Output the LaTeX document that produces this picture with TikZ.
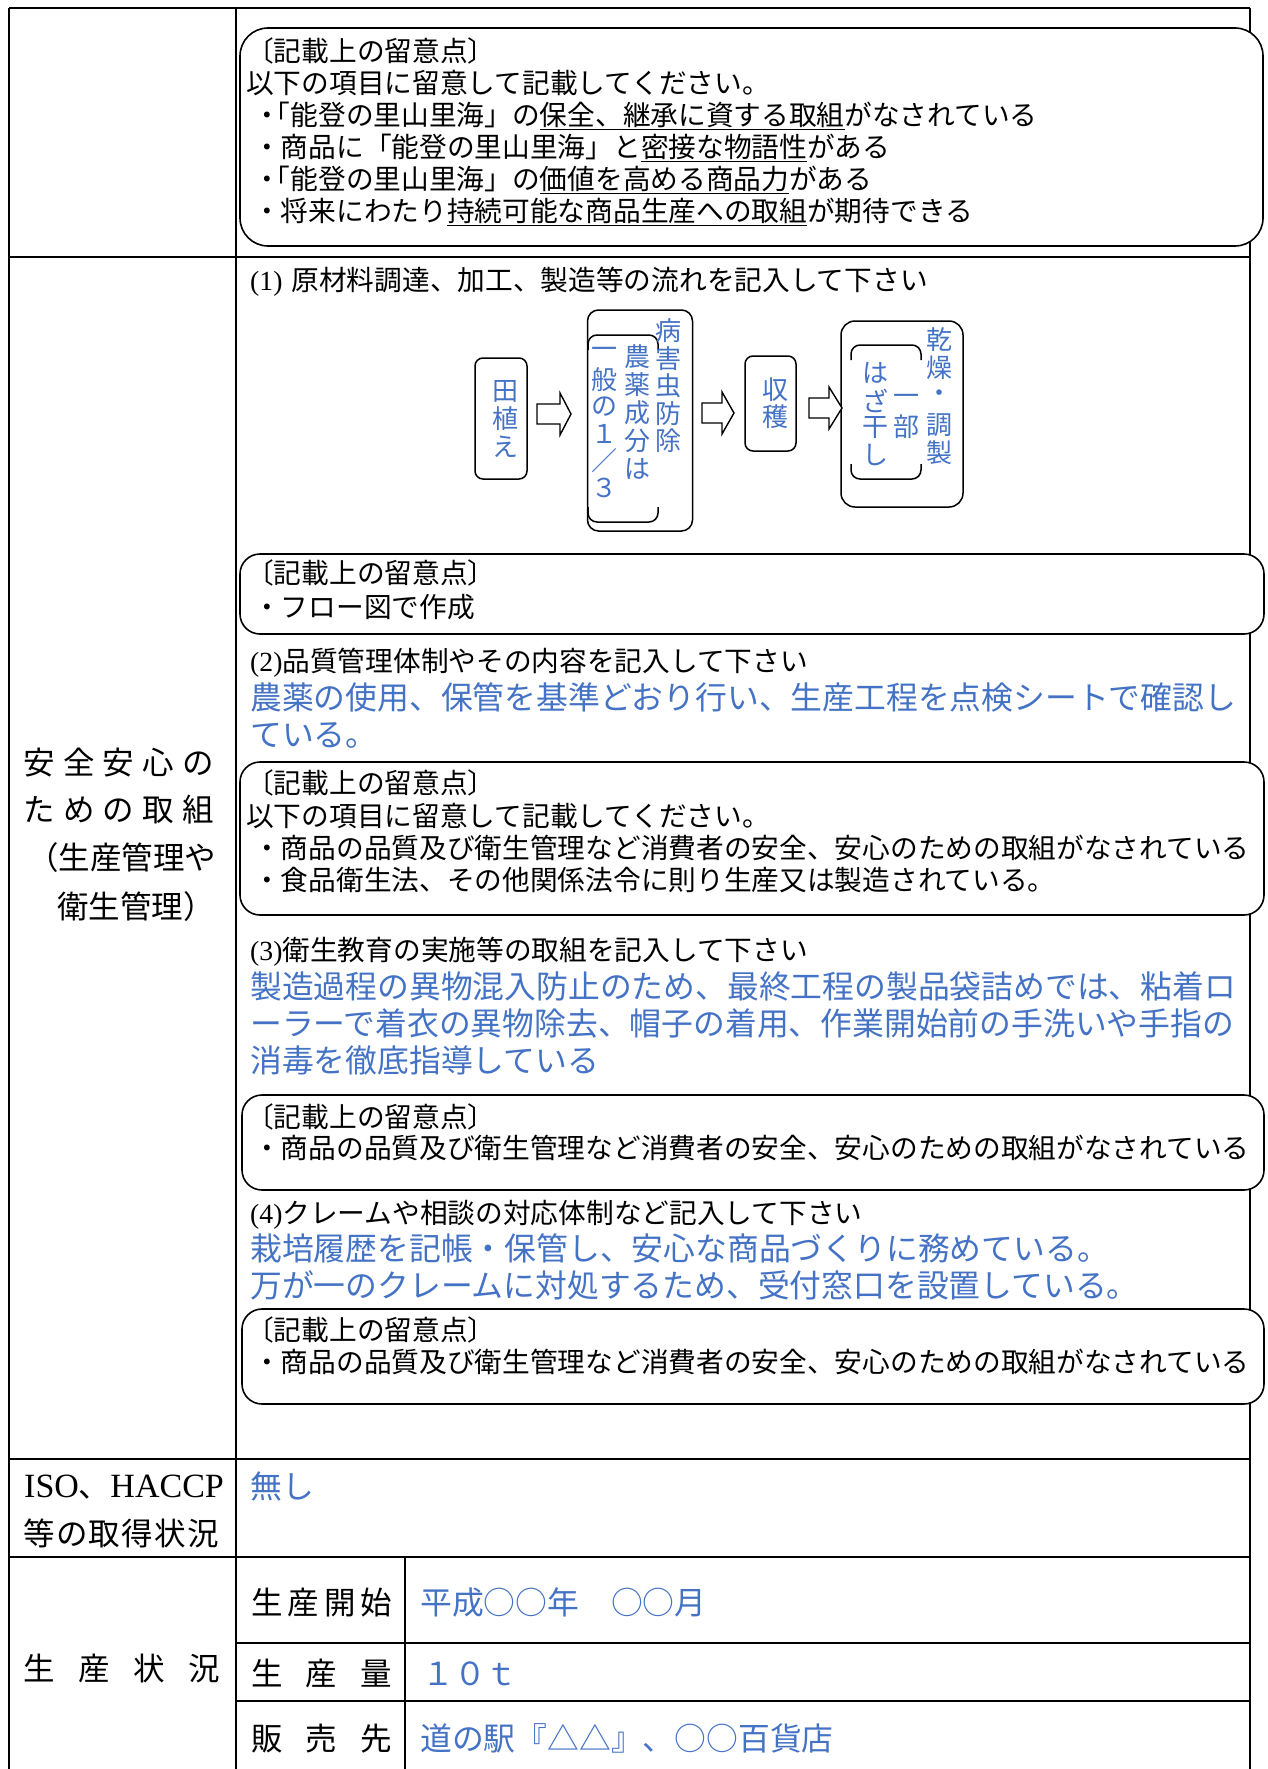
\documentclass[tikz,border=0pt]{standalone}
\usepackage{fontspec}
\setmainfont{Liberation Serif}
\newfontfamily\jp{Noto Sans CJK JP}
\usetikzlibrary{positioning}

\definecolor{ansblue}{RGB}{68,114,196}

\newcommand{\blockarrow}[4]{%
  \draw[arrowshape] (#1,#4-10) -- (#2,#4-10) -- (#2,#4-21) -- (#3,#4)
    -- (#2,#4+21) -- (#2,#4+10) -- (#1,#4+10) -- cycle;}
\newcommand{\bracketpair}[4]{%
  \draw[bracketline] (#1,#2+15) -- (#1,#2) -- (#3,#2) -- (#3,#2+15);
  \draw[bracketline] (#1,#4-15) -- (#1,#4) -- (#3,#4) -- (#3,#4-15);}
\newcommand{\kagi}{\hspace{-0.65em}「}

\tikzset{
  hrule/.style={line width=2.4pt},
  vrule/.style={line width=1.4pt},
  notebox/.style={draw, fill=white, line width=1.6pt, rounded corners=20pt},
  flowbox/.style={draw, line width=1.5pt, rounded corners=8pt, inner sep=0pt},
  bracketline/.style={line width=1.5pt, rounded corners=9pt},
  arrowshape/.style={draw, fill=white, line width=1.4pt, line join=miter},
  note/.style={anchor=base west, inner sep=0pt, font=\jp\fontsize{27.7}{32}\selectfont},
  ans/.style={anchor=base west, inner sep=0pt, text=ansblue, font=\jp\fontsize{31.8}{37}\selectfont},
  lbl/.style={anchor=base west, inner sep=0pt, font=\jp\fontsize{31.5}{37}\selectfont},
  vchar/.style={inner sep=0pt, text=ansblue, font=\jp\fontsize{26}{28}\selectfont},
}

\begin{document}
\begin{tikzpicture}[x=1pt,y=-1pt]
\useasboundingbox (0,0) rectangle (1268,1769);

% table rules
\draw[hrule] (9,8) -- (1250,8);
\draw[hrule] (9,257) -- (1250,257);
\draw[hrule] (9,1459) -- (1250,1459);
\draw[hrule] (9,1557) -- (1250,1557);
\draw[hrule] (236,1643) -- (1250,1643);
\draw[hrule] (236,1701) -- (1250,1701);
\draw[vrule] (9,8) -- (9,1769);
\draw[vrule] (236,8) -- (236,1769);
\draw[vrule] (1250,8) -- (1250,1769);
\draw[vrule] (405,1557) -- (405,1769);

% top note
\draw[notebox, rounded corners=28pt] (240,28) rectangle (1263,246);
\node[note] (n1a) at (246,61.5) {〔記載上の留意点〕};
\node[note] (n1b) at (246,93.5) {以下の項目に留意して記載してください。};
\node[note] (n1c) at (253,125.5) {・\kagi 能登の里山里海」の\underline{保全、継承に資する取組}がなされている};
\node[note] (n1d) at (253,157.5) {・商品に「能登の里山里海」と\underline{密接な物語性}がある};
\node[note] (n1e) at (253,189.5) {・\kagi 能登の里山里海」の\underline{価値を高める商品力}がある};
\node[note] (n1f) at (253,221.5) {・将来にわたり\underline{持続可能な商品生産への取組}が期待できる};

% left labels
\node[lbl] (l1) at (23,774) {\makebox[191pt][s]{安\hfill 全\hfill 安\hfill 心\hfill の}};
\node[lbl] (l2) at (23,821) {\makebox[191pt][s]{た\hfill め\hfill の\hfill 取\hfill 組}};
\node[lbl] (l3) at (27,869) {（生産管理や};
\node[lbl] (l4) at (57,918) {衛生管理）};

% (1) flow
\node[note] (h1) at (250,290.5) {{\rmfamily (1)}\hspace{9pt}原材料調達、加工、製造等の流れを記入して下さい};

\node[flowbox, minimum width=52, minimum height=121] (taue) at (501,418.5) {};
\node[flowbox, minimum width=105, minimum height=221, rounded corners=11pt] (boujo) at (640,420.5) {};
\node[flowbox, minimum width=51, minimum height=95] (shukaku) at (770.5,403.5) {};
\node[flowbox, minimum width=122, minimum height=186, rounded corners=14pt] (kanso) at (902,414) {};
\bracketpair{588}{335}{658}{522}
\bracketpair{851}{345}{921}{479}

\blockarrow{537}{560}{571}{414}
\blockarrow{702}{722}{734}{413}
\blockarrow{809}{829}{842}{408}

\foreach \c [count=\i from 0] in {田,植,え}
  \node[vchar] (taue\i) at (505,391+28*\i) {\c};
\foreach \c [count=\i from 0] in {病,害,虫,防,除}
  \node[vchar] (byo\i) at (668,331+27.5*\i) {\c};
\foreach \c [count=\i from 0] in {農,薬,成,分,は}
  \node[vchar] (noy\i) at (637,357+28*\i) {\c};
\foreach \c [count=\i from 0] in {一,般,の,１,／,３}
  \node[vchar] (ippan\i) at (604,353+27*\i) {\c};
\foreach \c [count=\i from 0] in {収,穫}
  \node[vchar] (shu\i) at (775,390+27*\i) {\c};
\foreach \c [count=\i from 0] in {乾,燥,・,調,製}
  \node[vchar] (kan\i) at (939,340+28.25*\i) {\c};
\foreach \c [count=\i from 0] in {一,部}
  \node[vchar] (ichi\i) at (906,400+27*\i) {\c};
\foreach \c [count=\i from 0] in {は,ざ,干,し}
  \node[vchar] (haza\i) at (875,373+27.5*\i) {\c};

\draw[notebox] (240,554) rectangle (1264,634);
\node[note] (n2a) at (246,583.5) {〔記載上の留意点〕};
\node[note] (n2b) at (253,617.5) {・フロー図で作成};

% (2)
\node[note] (h2) at (250,671.5) {{\rmfamily (2)}品質管理体制やその内容を記入して下さい};
\node[ans] (a2a) at (250,709) {農薬の使用、保管を基準どおり行い、生産工程を点検シートで確認し};
\node[ans] (a2b) at (250,746) {ている。};

\draw[notebox] (240,762) rectangle (1264,915);
\node[note] (n3a) at (246,793.5) {〔記載上の留意点〕};
\node[note] (n3b) at (246,826.5) {以下の項目に留意して記載してください。};
\node[note] (n3c) at (253,858.5) {・商品の品質及び衛生管理など消費者の安全、安心のための取組がなされている};
\node[note] (n3d) at (253,890.5) {・食品衛生法、その他関係法令に則り生産又は製造されている。};

% (3)
\node[note] (h3) at (250,960.5) {{\rmfamily (3)}衛生教育の実施等の取組を記入して下さい};
\node[ans] (a3a) at (250,998) {製造過程の異物混入防止のため、最終工程の製品袋詰めでは、粘着ロ};
\node[ans] (a3b) at (250,1035) {ーラーで着衣の異物除去、帽子の着用、作業開始前の手洗いや手指の};
\node[ans] (a3c) at (250,1072) {消毒を徹底指導している};

\draw[notebox] (242,1095) rectangle (1264,1190);
\node[note] (n4a) at (246,1127.5) {〔記載上の留意点〕};
\node[note] (n4b) at (253,1158.5) {・商品の品質及び衛生管理など消費者の安全、安心のための取組がなされている};

% (4)
\node[note] (h4) at (250,1223.5) {{\rmfamily (4)}クレームや相談の対応体制など記入して下さい};
\node[ans] (a4a) at (250,1260) {栽培履歴を記帳・保管し、安心な商品づくりに務めている。};
\node[ans] (a4b) at (250,1297) {万が一のクレームに対処するため、受付窓口を設置している。};

\draw[notebox] (242,1309) rectangle (1264,1404);
\node[note] (n5a) at (246,1340.5) {〔記載上の留意点〕};
\node[note] (n5b) at (253,1372.5) {・商品の品質及び衛生管理など消費者の安全、安心のための取組がなされている};

% ISO row
\node[lbl] (iso) at (24,1497) {{\rmfamily\fontsize{34}{37}\selectfont ISO}、{\rmfamily\fontsize{34}{37}\selectfont HACCP}};
\node[lbl] (iso2) at (23,1545) {\makebox[196pt][s]{等\hfill の\hfill 取\hfill 得\hfill 状\hfill 況}};
\node[ans] (nashi) at (250,1498) {無し};

% production rows
\node[lbl] (seisan) at (23,1680) {\makebox[197pt][s]{生\hfill 産\hfill 状\hfill 況}};
\node[lbl] (kaishi) at (251,1614) {\makebox[141pt][s]{生\hfill 産\hfill 開\hfill 始}};
\node[lbl] (ryo) at (251,1685) {\makebox[141pt][s]{生\hfill 産\hfill 量}};
\node[lbl] (hanbai) at (251,1750) {\makebox[141pt][s]{販\hfill 売\hfill 先}};
\node[ans] (kaishiv) at (420,1614) {平成○○年　○○月};
\node[ans] (ryov) at (422,1685) {１０ｔ};
\node[ans] (hanbaiv) at (420,1750) {道の駅『△△』、○○百貨店};

\end{tikzpicture}
\end{document}
